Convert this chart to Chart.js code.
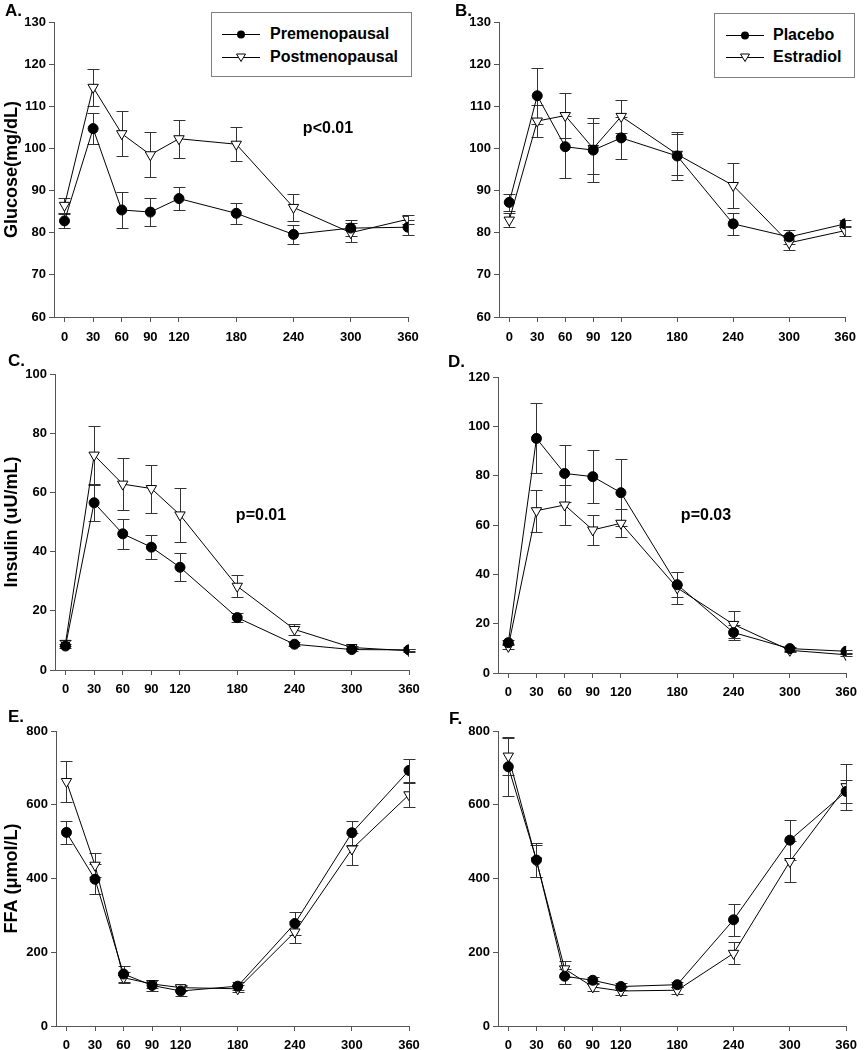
<!DOCTYPE html>
<html><head><meta charset="utf-8">
<script src="https://cdn.jsdelivr.net/npm/chart.js@4.4.1/dist/chart.umd.min.js"></script>
<style>
html,body{margin:0;padding:0;background:#fff;}
#fig{position:relative;width:864px;height:1050px;overflow:hidden;font-family:"Liberation Sans",Arial,sans-serif;font-weight:bold;color:#000;}
#fig canvas{position:absolute;}
.t{position:absolute;line-height:1;white-space:nowrap;}
.leg{position:absolute;border:1px solid #808080;box-sizing:border-box;background:#fff;}
.ico{position:absolute;}
</style></head>
<body>
<div id="fig"></div>
<script>
// ---------- data ----------
const timePoints = [0, 30, 60, 90, 120, 180, 240, 300, 360];
const xTickLabels = ['0', '30', '60', '90', '120', '180', '240', '300', '360'];

// A: glucose, menopause groups
const glucosePre      = [82.8, 104.7, 85.4, 84.9, 88.1, 84.6, 79.6, 81.1, 81.3];
const glucosePreErr   = [1.7, 3.7, 4.3, 3.4, 2.7, 2.5, 2.2, 1.8, 1.8];
const glucosePost     = [86.5, 114.5, 103.5, 98.5, 102.3, 101.0, 86.0, 80.0, 83.2];
const glucosePostErr  = [1.8, 4.4, 5.4, 5.3, 4.5, 4.1, 3.2, 2.2, 1.1];
// B: glucose, treatment groups
const glucosePlacebo     = [87.2, 112.5, 100.4, 99.6, 102.5, 98.2, 82.1, 79.0, 82.1];
const glucosePlaceboErr  = [2.0, 6.7, 7.4, 7.6, 5.0, 5.6, 2.6, 1.6, 0.8];
const glucoseEstradiol   = [83.0, 106.5, 107.8, 100.0, 107.6, 98.6, 91.2, 77.6, 80.5];
const glucoseEstradiolErr= [1.6, 3.7, 5.3, 6.0, 3.9, 4.8, 5.4, 1.6, 1.2];
// C: insulin, menopause groups
const insulinPre      = [8.1, 56.5, 46.0, 41.5, 34.7, 17.7, 8.7, 6.9, 6.8];
const insulinPreErr   = [0.8, 6.0, 5.0, 4.0, 4.7, 1.6, 0.7, 0.5, 0.4];
const insulinPost     = [9.0, 72.6, 62.8, 61.3, 52.4, 28.3, 13.7, 7.6, 6.5];
const insulinPostErr  = [1.0, 9.8, 8.8, 8.1, 9.2, 3.7, 1.8, 0.6, 0.5];
// D: insulin, treatment groups
const insulinPlacebo      = [12.3, 95.1, 80.9, 79.6, 73.1, 35.8, 16.4, 9.9, 8.8];
const insulinPlaceboErr   = [1.0, 14.2, 11.5, 10.8, 13.5, 5.0, 3.0, 0.8, 0.5];
const insulinEstradiol    = [10.8, 65.8, 68.1, 58.0, 60.7, 34.5, 19.7, 9.2, 7.4];
const insulinEstradiolErr = [1.0, 8.5, 8.0, 6.1, 5.7, 6.5, 5.5, 0.8, 0.5];
// E: FFA, menopause groups
const ffaPre      = [525, 398, 141, 110, 95, 108, 278, 524, 693];
const ffaPreErr   = [32, 40, 22, 15, 14, 10, 30, 33, 30];
const ffaPost     = [663, 436, 131, 114, 104, 101, 255, 480, 627];
const ffaPostErr  = [55, 33, 15, 10, 8, 10, 30, 43, 32];
// F: FFA, treatment groups
const ffaPlacebo      = [703, 450, 135, 124, 107, 112, 288, 504, 636];
const ffaPlaceboErr   = [80, 46, 20, 10, 10, 6, 44, 55, 32];
const ffaEstradiol    = [732, 448, 155, 106, 95, 97, 197, 446, 649];
const ffaEstradiolErr = [50, 44, 22, 10, 10, 10, 30, 55, 62];

const groupNamesA = ['Premenopausal', 'Postmenopausal'];
const groupNamesB = ['Placebo', 'Estradiol'];
const yTitles = ['Glucose(mg/dL)', 'Insulin (uU/mL)', 'FFA (\u03bcmol/L)'];
const panelLetters = ['A.', 'B.', 'C.', 'D.', 'E.', 'F.'];
const pValueTexts = ['p<0.01', 'p=0.01', 'p=0.03'];

// ---------- drawing ----------
const FONT = '"Liberation Sans", Arial, sans-serif';
Chart.defaults.font.family = FONT;
Chart.defaults.color = '#000';
const AXIS_COLOR = '#555';

const errorBarPlugin = {
  id: 'errorBars',
  beforeDatasetsDraw(chart) {
    const {ctx} = chart;
    const xs = chart.scales.x, ys = chart.scales.y;
    ctx.save();
    ctx.strokeStyle = '#333';
    ctx.lineWidth = 1;
    chart.data.datasets.forEach(ds => {
      if (!ds.errors) return;
      ds.data.forEach((p, i) => {
        const e = ds.errors[i];
        const px = Math.round(xs.getPixelForValue(p.x)) + 0.5;
        const yt = Math.round(ys.getPixelForValue(p.y + e)) + 0.5;
        const yb = Math.round(ys.getPixelForValue(p.y - e)) + 0.5;
        ctx.beginPath();
        ctx.moveTo(px, yt); ctx.lineTo(px, yb);
        ctx.moveTo(px - 6, yt); ctx.lineTo(px + 6, yt);
        ctx.moveTo(px - 6, yb); ctx.lineTo(px + 6, yb);
        ctx.stroke();
      });
    });
    ctx.restore();
  }
};

function toPoints(vals) { return timePoints.map((t, i) => ({x: t, y: vals[i]})); }

function circleSet(label, vals, errs) {
  return {label, data: toPoints(vals), errors: errs, borderColor: '#000', borderWidth: 1,
    pointStyle: 'circle', pointRadius: 5, pointBackgroundColor: '#000', pointBorderColor: '#000',
    pointBorderWidth: 1, tension: 0, fill: false};
}
function triangleSet(label, vals, errs) {
  return {label, data: toPoints(vals), errors: errs, borderColor: '#000', borderWidth: 1,
    pointStyle: 'triangle', pointRotation: 180, pointRadius: 6, pointBackgroundColor: '#fff',
    pointBorderColor: '#000', pointBorderWidth: 1, tension: 0, fill: false};
}

const panels = [
  {left: 0,   top: 0,   padTop: 22, padRight: 24, yW: 54, xH: 33, tickPad: 8, yMin: 60, yMax: 130, yStep: 10, title: yTitles[0],
   sets: [circleSet(groupNamesA[0], glucosePre, glucosePreErr), triangleSet(groupNamesA[1], glucosePost, glucosePostErr)]},
  {left: 432, top: 0,   padTop: 22, padRight: 11, yW: 67, xH: 33, tickPad: 8, yMin: 60, yMax: 130, yStep: 10, title: null,
   sets: [circleSet(groupNamesB[0], glucosePlacebo, glucosePlaceboErr), triangleSet(groupNamesB[1], glucoseEstradiol, glucoseEstradiolErr)]},
  {left: 0,   top: 350, padTop: 24, padRight: 23, yW: 55, xH: 30, tickPad: 7, yMin: 0, yMax: 100, yStep: 20, title: yTitles[1],
   sets: [circleSet(groupNamesA[0], insulinPre, insulinPreErr), triangleSet(groupNamesA[1], insulinPost, insulinPostErr)]},
  {left: 432, top: 350, padTop: 27, padRight: 11, yW: 66, xH: 27, tickPad: 7, yMin: 0, yMax: 120, yStep: 20, title: null,
   sets: [circleSet(groupNamesB[0], insulinPlacebo, insulinPlaceboErr), triangleSet(groupNamesB[1], insulinEstradiol, insulinEstradiolErr)]},
  {left: 0,   top: 700, padTop: 31, padRight: 23, yW: 56, xH: 24, tickPad: 7, yMin: 0, yMax: 800, yStep: 200, title: yTitles[2],
   sets: [circleSet(groupNamesA[0], ffaPre, ffaPreErr), triangleSet(groupNamesA[1], ffaPost, ffaPostErr)]},
  {left: 432, top: 700, padTop: 31, padRight: 11, yW: 66, xH: 24, tickPad: 7, yMin: 0, yMax: 800, yStep: 200, title: null,
   sets: [circleSet(groupNamesB[0], ffaPlacebo, ffaPlaceboErr), triangleSet(groupNamesB[1], ffaEstradiol, ffaEstradiolErr)]}
];

const fig = document.getElementById('fig');

panels.forEach(p => {
  const cv = document.createElement('canvas');
  cv.width = 432; cv.height = 350;
  cv.style.left = p.left + 'px'; cv.style.top = p.top + 'px';
  cv.style.width = '432px'; cv.style.height = '350px';
  fig.appendChild(cv);
  const tickFont = {family: FONT, size: 13, weight: 'bold'};
  const gridOpts = {display: true, drawOnChartArea: false, drawTicks: true, tickLength: 5, color: AXIS_COLOR, lineWidth: 1};
  new Chart(cv, {
    type: 'line',
    data: {datasets: p.sets},
    plugins: [errorBarPlugin],
    options: {
      responsive: false, animation: false, devicePixelRatio: 1,
      layout: {padding: {top: p.padTop, right: p.padRight, bottom: 0, left: 0}},
      plugins: {legend: {display: false}, tooltip: {enabled: false}},
      scales: {
        x: {type: 'linear', min: -11, max: 360,
          afterBuildTicks: s => { s.ticks = timePoints.map(v => ({value: v})); },
          afterFit: s => { s.height = p.xH; },
          ticks: {font: tickFont, color: '#000', padding: p.tickPad, autoSkip: false, maxRotation: 0,
            callback: (v, i) => xTickLabels[i]},
          grid: gridOpts, border: {display: true, color: AXIS_COLOR, width: 1}},
        y: {type: 'linear', min: p.yMin, max: p.yMax,
          afterFit: s => { s.width = p.yW; },
          ticks: {font: tickFont, color: '#000', padding: 3, stepSize: p.yStep},
          grid: gridOpts, border: {display: true, color: AXIS_COLOR, width: 1},
          title: {display: !!p.title, text: p.title || '', color: '#000',
            font: {family: FONT, size: 18, weight: 'bold'}, padding: {top: 1, bottom: 0}}}
      }
    }
  });
});

// ---------- annotations (real text) ----------
function addText(txt, x, y, size, anchor) {
  const d = document.createElement('div');
  d.className = 't';
  d.textContent = txt;
  d.style.fontSize = size + 'px';
  d.style.left = x + 'px'; d.style.top = y + 'px';
  d.style.transform = anchor === 'center' ? 'translate(-50%,-50%)' : 'translate(0,-50%)';
  fig.appendChild(d);
  return d;
}
const letterPos = [[5, 10], [455, 10], [8, 360], [448, 361], [8, 716], [449, 718]];
panelLetters.forEach((l, i) => addText(l, letterPos[i][0], letterPos[i][1], 17, 'left'));
addText(pValueTexts[0], 328, 128, 16, 'center');
addText(pValueTexts[1], 261, 515, 16, 'center');
addText(pValueTexts[2], 706, 515, 16, 'center');

function legendIcon(x, y, kind) {
  const ns = 'http://www.w3.org/2000/svg';
  const s = document.createElementNS(ns, 'svg');
  s.setAttribute('width', '38'); s.setAttribute('height', '12');
  s.setAttribute('class', 'ico');
  s.style.left = x + 'px'; s.style.top = (y - 6) + 'px';
  const ln = document.createElementNS(ns, 'line');
  ln.setAttribute('x1', '0'); ln.setAttribute('x2', '38'); ln.setAttribute('y1', '6.5'); ln.setAttribute('y2', '6.5');
  ln.setAttribute('stroke', '#000'); ln.setAttribute('stroke-width', '1');
  s.appendChild(ln);
  if (kind === 'circle') {
    const c = document.createElementNS(ns, 'circle');
    c.setAttribute('cx', '19'); c.setAttribute('cy', '6.5'); c.setAttribute('r', '4');
    c.setAttribute('fill', '#000');
    s.appendChild(c);
  } else {
    const t = document.createElementNS(ns, 'polygon');
    t.setAttribute('points', '14.5,3 23.5,3 19,10.5');
    t.setAttribute('fill', '#fff'); t.setAttribute('stroke', '#000'); t.setAttribute('stroke-width', '1');
    s.appendChild(t);
  }
  fig.appendChild(s);
}
function addLegend(box, names, iconX, textX, rowsY) {
  const b = document.createElement('div');
  b.className = 'leg';
  b.style.left = box[0] + 'px'; b.style.top = box[1] + 'px';
  b.style.width = box[2] + 'px'; b.style.height = box[3] + 'px';
  fig.appendChild(b);
  legendIcon(iconX, rowsY[0], 'circle');
  legendIcon(iconX, rowsY[1], 'triangle');
  addText(names[0], textX, rowsY[0], 16, 'left');
  addText(names[1], textX, rowsY[1], 16, 'left');
}
addLegend([211, 12, 201, 65], groupNamesA, 222, 270, [34, 57]);
addLegend([714, 13, 141, 65], groupNamesB, 726, 773, [35, 57]);
</script>
</body></html>
